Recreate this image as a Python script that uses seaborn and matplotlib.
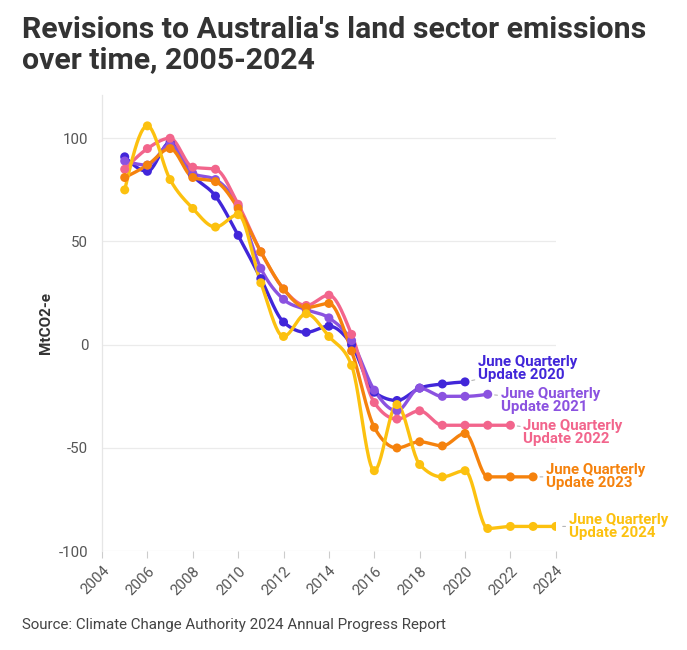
import matplotlib
matplotlib.use("Agg")
import matplotlib.pyplot as plt
import numpy as np
import pandas as pd
import seaborn as sns

years = list(range(2005, 2025))

update_2020 = [91, 84, 98, 82, 72, 53, 32, 11, 6, 9, 0, -23, -27, -21, -19, -18]
update_2021 = [89, 87, 97, 83, 80, 67, 37, 22, 17, 13, 2, -22, -32, -21, -25, -25, -24]
update_2022 = [85, 95, 100, 86, 85, 68, 45, 27, 19, 24, 5, -28, -36, -32, -39, -39, -39, -39]
update_2023 = [81, 87, 95, 81, 79, 66, 45, 27, 18, 20, -3, -40, -50, -47, -49, -43, -64, -64, -64]
update_2024 = [75, 106, 80, 66, 57, 63, 30, 4, 15, 4, -10, -61, -29, -58, -64, -61, -89, -88, -88, -88]

series_names = ["June Quarterly\nUpdate 2020", "June Quarterly\nUpdate 2021",
                "June Quarterly\nUpdate 2022", "June Quarterly\nUpdate 2023",
                "June Quarterly\nUpdate 2024"]
series_values = [update_2020, update_2021, update_2022, update_2023, update_2024]
colors = ["#4126D9", "#8B52E0", "#F2658C", "#F5820D", "#FCC10F"]
# label offsets (pixels) from the last point
label_dy = [13, -6, -7, 0, 0]

y_ticks = [-100, -50, 0, 50, 100]
x_ticks = list(range(2004, 2025, 2))


def monotone_curve(x, y, n=24):
    """Monotone cubic (like d3 curveMonotoneX) for drawing smooth lines."""
    x = np.asarray(x, float)
    y = np.asarray(y, float)
    h = np.diff(x)
    s = np.diff(y) / h
    t = np.zeros_like(y)
    for i in range(1, len(y) - 1):
        s0, s1 = s[i - 1], s[i]
        if s0 * s1 <= 0:
            t[i] = 0
        else:
            p = (s0 * h[i] + s1 * h[i - 1]) / (h[i - 1] + h[i])
            t[i] = (np.sign(s0) + np.sign(s1)) * min(abs(s0), abs(s1), 0.5 * abs(p))
    t[0] = (3 * s[0] - t[1]) / 2
    t[-1] = (3 * s[-1] - t[-2]) / 2
    xs, ys = [], []
    for i in range(len(h)):
        u = np.linspace(0, 1, n, endpoint=(i == len(h) - 1))
        h00 = 2 * u**3 - 3 * u**2 + 1
        h10 = u**3 - 2 * u**2 + u
        h01 = -2 * u**3 + 3 * u**2
        h11 = u**3 - u**2
        xs.append(x[i] + u * h[i])
        ys.append(h00 * y[i] + h10 * h[i] * t[i] + h01 * y[i + 1] + h11 * h[i] * t[i + 1])
    return np.concatenate(xs), np.concatenate(ys)


sns.set_theme(style="white")
plt.rcParams["font.family"] = ["Roboto", "DejaVu Sans"]
plt.rcParams["axes.unicode_minus"] = False

fig = plt.figure(figsize=(6.87, 6.5), dpi=100)
ax = fig.add_axes([0.1485, 0.152, 0.6605, 0.702])

points = []
for name, vals in zip(series_names, series_values):
    points.append(pd.DataFrame({"year": years[:len(vals)], "value": vals, "series": name}))
points = pd.concat(points, ignore_index=True)

for name, color in zip(series_names, colors):
    d = points[points["series"] == name]
    cx, cy = monotone_curve(d["year"], d["value"])
    sns.lineplot(x=cx, y=cy, ax=ax, color=color, lw=2.4, sort=False,
                 estimator=None, zorder=2)
    sns.scatterplot(data=d, x="year", y="value", ax=ax, color=color, s=42,
                    edgecolor="none", zorder=3)

for name, color, dy in zip(series_names, colors, label_dy):
    d = points[points["series"] == name].iloc[-1]
    ax.annotate(name, xy=(d["year"], d["value"]), xytext=(13, dy),
                textcoords="offset pixels", ha="left", va="center",
                fontsize=10.8, fontweight="bold", color=color, linespacing=0.92,
                annotation_clip=False,
                arrowprops=dict(arrowstyle="-", color="#b5b5b5", lw=0.8,
                                shrinkA=9, shrinkB=5))

ax.set_xlim(2004, 2024)
ax.set_ylim(-100, 121)
ax.set_yticks(y_ticks)
ax.set_xticks(x_ticks)
ax.set_xticklabels([str(x) for x in x_ticks], rotation=45, ha="right",
                   rotation_mode="anchor")
ax.tick_params(axis="x", colors="#cccccc", labelcolor="#555555", labelsize=10.8,
               length=5, width=0.8, bottom=True, pad=4)
ax.tick_params(axis="y", labelcolor="#555555", labelsize=10.8, length=0, pad=10)
ax.grid(axis="y", color="#ebebeb", lw=0.9)
ax.set_axisbelow(True)
for side in ["top", "right", "bottom"]:
    ax.spines[side].set_visible(False)
ax.spines["left"].set_color("#e6e6e6")
ax.spines["left"].set_linewidth(0.9)
ax.set_xlabel("")
ax.set_ylabel("MtCO2-e", fontsize=11, fontweight="bold", color="#333333",
              labelpad=4)

fig.text(0.032, 0.975, "Revisions to Australia's land sector emissions\nover time, 2005-2024",
         fontsize=21.8, fontweight="bold", color="#333333", va="top", ha="left",
         linespacing=1.08)
fig.text(0.032, 0.038, "Source: Climate Change Authority 2024 Annual Progress Report",
         fontsize=10.9, color="#444444", ha="left", va="center")

fig.savefig("out.png", dpi=100)
